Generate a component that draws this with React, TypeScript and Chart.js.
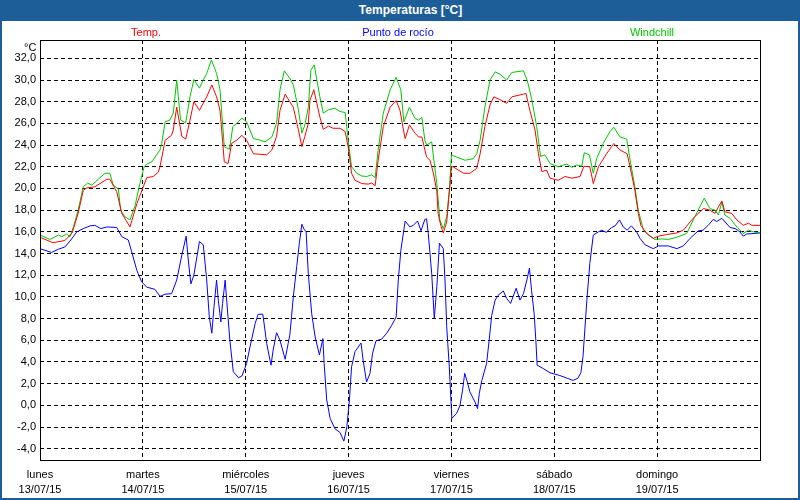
import React, { useEffect, useRef } from "react";
import { Chart, registerables } from "chart.js";

Chart.register(...registerables);

const dayNames = ["lunes", "martes", "miércoles", "jueves", "viernes", "sábado", "domingo"];
const dayDates = ["13/07/15", "14/07/15", "15/07/15", "16/07/15", "17/07/15", "18/07/15", "19/07/15"];
const dayTickHours = [0, 24, 48, 72, 96, 120, 144];
const yTickValues = [-4, -2, 0, 2, 4, 6, 8, 10, 12, 14, 16, 18, 20, 22, 24, 26, 28, 30, 32];

// Temp. (hours since 13/07/15 00:00, °C)
const tempHours = [0, 3.0, 5.8, 7.5, 8.9, 10.1, 10.9, 12.8, 15.6, 16.3, 17.9, 19.1, 21.0, 22.6, 24.1, 24.9, 26.4, 27.6, 28.0, 29.2, 30.7, 31.1, 31.9, 33.1, 34.0, 35.0, 35.9, 37.2, 38.9, 40.1, 41.2, 42.0, 42.6, 43.0, 43.9, 44.7, 45.9, 47.1, 48.2, 49.8, 52.9, 54.1, 55.2, 56.0, 57.2, 58.3, 59.1, 60.3, 61.1, 61.8, 62.6, 63.0, 63.9, 64.6, 65.3, 66.1, 67.3, 68.4, 70.0, 71.2, 71.9, 72.7, 73.5, 75.1, 76.6, 77.4, 78.2, 78.9, 80.1, 81.7, 83.1, 84.0, 84.8, 85.2, 86.2, 87.5, 88.3, 89.1, 90.2, 91.0, 91.8, 92.6, 92.9, 93.5, 94.1, 94.9, 95.4, 95.8, 96.0, 96.4, 98.8, 100.3, 101.9, 102.7, 103.8, 105.0, 105.9, 107.3, 108.9, 110.1, 112.8, 113.4, 114.3, 115.5, 116.3, 117.1, 118.2, 119.0, 120.9, 122.5, 124.1, 126.0, 126.9, 128.3, 129.1, 130.3, 132.2, 133.9, 135.3, 137.0, 138.0, 138.8, 139.6, 140.2, 141.6, 143.1, 144.3, 146.2, 148.6, 150.1, 152.4, 154.8, 156.3, 157.5, 158.3, 159.1, 159.8, 161.4, 162.6, 164.1, 165.3, 166.1, 168.0];
const tempValues = [15.5, 15.0, 15.2, 15.9, 17.7, 19.85, 20.05, 20.15, 20.85, 20.85, 19.7, 17.7, 16.45, 18.6, 20.15, 21.0, 21.1, 21.5, 22.0, 24.45, 24.9, 25.4, 27.5, 24.8, 24.55, 26.3, 28.0, 27.2, 28.45, 29.55, 28.45, 27.2, 24.45, 22.45, 22.3, 24.15, 24.45, 24.9, 24.45, 23.2, 23.1, 23.55, 24.8, 27.2, 28.7, 28.0, 27.5, 25.4, 23.85, 24.8, 26.0, 28.15, 29.1, 27.85, 26.6, 25.45, 25.75, 25.55, 25.55, 25.25, 23.85, 21.4, 20.75, 20.45, 20.4, 20.5, 20.25, 22.6, 25.7, 27.5, 28.1, 27.2, 25.4, 24.6, 25.85, 25.1, 24.75, 24.75, 22.9, 22.6, 21.4, 19.7, 17.7, 16.6, 15.9, 16.9, 19.2, 20.8, 22.0, 22.0, 21.4, 21.4, 21.85, 23.2, 25.7, 27.7, 28.45, 28.2, 27.85, 28.45, 28.7, 28.75, 27.2, 25.4, 23.2, 21.55, 21.7, 20.95, 20.75, 21.1, 20.95, 21.1, 22.05, 22.0, 20.45, 22.0, 23.2, 24.15, 23.55, 23.2, 21.4, 19.85, 17.7, 16.6, 15.85, 15.4, 15.6, 15.75, 15.9, 16.15, 17.25, 18.15, 18.0, 17.7, 18.3, 18.85, 17.85, 17.7, 17.1, 16.6, 16.8, 16.6, 16.6];

// Punto de rocío
const dewHours = [0, 2.7, 4.3, 5.8, 7.0, 8.6, 10.1, 11.7, 12.8, 14.2, 15.6, 17.9, 19.1, 20.6, 21.4, 22.6, 23.7, 24.9, 26.8, 28.0, 29.2, 30.7, 31.9, 33.1, 34.1, 34.6, 35.2, 35.9, 37.2, 38.1, 38.9, 39.5, 40.1, 40.6, 41.2, 41.6, 42.2, 42.6, 43.2, 43.6, 44.3, 45.1, 46.3, 47.1, 48.2, 49.0, 50.2, 50.9, 52.0, 52.9, 53.9, 54.4, 55.2, 56.0, 57.2, 57.9, 58.3, 58.7, 59.1, 59.9, 60.5, 61.1, 61.6, 62.1, 62.6, 63.4, 64.2, 65.2, 66.0, 66.3, 66.9, 67.7, 68.8, 70.0, 70.9, 71.6, 72.2, 72.7, 73.5, 74.9, 75.4, 76.2, 77.0, 77.6, 78.4, 79.7, 80.9, 82.1, 83.1, 83.6, 84.2, 85.2, 86.3, 87.1, 88.1, 88.9, 89.8, 90.2, 90.6, 91.4, 92.0, 92.6, 93.2, 94.1, 94.5, 94.9, 95.5, 96.1, 97.2, 98.0, 98.6, 99.1, 99.6, 100.3, 101.5, 102.1, 102.5, 103.1, 104.2, 104.8, 105.4, 106.2, 106.9, 108.1, 108.9, 109.8, 111.1, 112.0, 112.8, 113.6, 114.2, 114.7, 115.3, 115.7, 116.0, 117.4, 119.0, 121.3, 123.0, 124.4, 125.5, 126.2, 126.7, 127.6, 128.3, 129.1, 130.3, 131.1, 132.1, 133.4, 134.2, 135.2, 136.1, 137.0, 138.0, 139.2, 140.0, 141.2, 143.1, 144.3, 146.6, 148.6, 150.1, 151.7, 153.6, 154.7, 155.9, 157.1, 157.9, 159.1, 161.0, 162.2, 163.3, 164.1, 164.9, 166.8, 168.0];
const dewValues = [14.45, 14.1, 14.4, 14.6, 15.15, 16.0, 16.3, 16.55, 16.6, 16.3, 16.45, 16.4, 15.55, 15.25, 14.15, 12.45, 11.4, 10.9, 10.7, 10.05, 10.25, 10.3, 11.55, 13.85, 15.6, 13.4, 11.2, 12.0, 15.1, 14.8, 11.55, 8.15, 6.65, 9.1, 11.55, 9.7, 7.7, 9.4, 11.55, 9.5, 6.0, 3.1, 2.55, 2.7, 3.85, 5.4, 7.55, 8.4, 8.4, 5.7, 3.7, 5.1, 6.7, 6.0, 4.25, 5.7, 6.5, 8.2, 10.0, 12.8, 14.9, 16.7, 16.25, 16.0, 12.15, 8.45, 6.3, 4.65, 6.15, 3.85, 0.5, -1.2, -2.15, -2.5, -3.3, -2.0, 0.5, 3.55, 4.95, 5.75, 4.15, 2.15, 2.95, 4.8, 5.95, 6.1, 6.65, 7.4, 8.15, 11.55, 14.3, 17.0, 16.45, 16.6, 17.0, 16.1, 17.15, 17.2, 15.85, 12.15, 8.0, 10.95, 14.95, 14.45, 11.55, 7.25, 3.55, -1.2, -0.75, 0.0, 1.4, 2.95, 2.3, 1.25, 0.3, -0.3, 1.1, 2.3, 3.85, 6.0, 8.3, 9.7, 10.15, 10.55, 9.85, 9.4, 10.8, 9.7, 10.3, 11.55, 12.65, 10.6, 8.45, 6.0, 3.7, 3.4, 3.0, 2.75, 2.5, 2.3, 2.5, 3.0, 4.5, 9.7, 13.1, 15.7, 16.0, 16.15, 15.95, 16.4, 16.55, 17.1, 16.45, 16.15, 16.55, 16.0, 15.4, 14.8, 14.45, 14.7, 14.7, 14.45, 14.7, 15.4, 16.1, 16.15, 16.6, 17.15, 16.95, 17.25, 16.4, 16.3, 16.0, 15.6, 15.8, 15.85, 15.9];

// Windchill
const chillHours = [0, 2.3, 4.3, 5.1, 6.2, 7.0, 7.8, 8.9, 10.1, 11.1, 12.1, 13.6, 15.2, 16.3, 17.1, 18.3, 18.8, 19.8, 21.0, 22.2, 23.3, 24.3, 24.9, 26.1, 28.0, 28.4, 29.2, 30.3, 31.1, 31.9, 32.8, 34.0, 35.0, 35.9, 37.2, 38.1, 38.9, 40.0, 41.2, 42.0, 42.6, 43.0, 44.2, 45.0, 45.9, 47.1, 48.2, 49.8, 51.3, 52.5, 54.1, 55.2, 56.0, 57.0, 58.3, 59.1, 60.3, 61.1, 61.8, 62.6, 63.2, 64.0, 64.6, 65.3, 66.1, 67.3, 68.8, 70.0, 71.2, 71.9, 72.7, 73.9, 75.1, 76.2, 77.4, 78.2, 78.9, 80.1, 81.7, 83.1, 84.2, 84.9, 86.2, 87.5, 88.3, 89.1, 89.8, 90.2, 91.4, 91.9, 92.6, 93.3, 94.1, 94.9, 95.5, 96.0, 97.2, 99.2, 101.1, 101.9, 102.7, 103.8, 105.0, 106.2, 107.3, 108.9, 110.1, 112.8, 113.7, 114.7, 115.9, 116.8, 117.8, 119.0, 120.9, 122.9, 124.1, 125.2, 126.4, 127.0, 128.2, 129.1, 129.9, 131.4, 133.0, 133.9, 135.3, 136.9, 137.7, 138.8, 139.6, 140.8, 142.3, 143.5, 145.1, 146.6, 148.6, 150.9, 152.8, 155.0, 156.3, 157.5, 158.3, 159.1, 159.8, 161.0, 162.6, 164.1, 165.3, 166.4, 168.0];
const chillValues = [15.7, 15.3, 15.7, 15.55, 15.8, 15.55, 16.45, 18.0, 20.15, 20.5, 20.3, 20.85, 21.4, 21.4, 20.3, 19.95, 18.0, 17.4, 17.1, 18.45, 20.45, 22.0, 22.25, 22.45, 23.55, 24.15, 26.15, 26.3, 26.95, 30.0, 26.3, 26.05, 28.45, 30.05, 29.25, 30.0, 30.6, 31.85, 30.6, 29.1, 26.0, 23.85, 23.6, 25.7, 26.0, 26.5, 26.15, 24.6, 24.45, 24.3, 24.75, 26.0, 29.1, 30.85, 30.15, 29.55, 27.25, 25.1, 25.85, 27.5, 30.9, 31.4, 30.0, 28.45, 26.95, 27.25, 27.4, 27.1, 27.0, 24.45, 22.0, 21.4, 21.15, 21.1, 21.25, 21.0, 23.55, 26.95, 29.1, 30.25, 29.1, 26.15, 27.5, 26.45, 26.3, 26.55, 24.45, 24.0, 24.3, 22.6, 20.45, 17.1, 16.3, 17.4, 19.85, 23.1, 22.9, 22.6, 22.75, 23.2, 24.45, 27.5, 30.0, 30.75, 30.55, 30.0, 30.7, 30.85, 29.95, 28.3, 25.7, 22.95, 23.1, 22.3, 22.0, 22.25, 21.95, 22.15, 22.05, 23.3, 23.1, 21.4, 22.75, 24.15, 25.25, 25.65, 24.75, 24.55, 22.6, 20.15, 18.0, 16.15, 15.6, 15.3, 15.35, 15.3, 15.5, 15.85, 17.4, 19.1, 18.15, 18.0, 17.55, 18.75, 17.55, 17.25, 16.45, 15.85, 16.15, 16.0, 15.9];

const BLUE_FRAME = "#1E5E98";
const FONT = "'Liberation Sans', Arial, sans-serif";

function toPoints(xs: number[], ys: number[]) {
  return xs.map((x, i) => ({ x, y: ys[i] }));
}

const framePlugin = {
  id: "frameBox",
  afterDraw(chart: any) {
    const { ctx, chartArea } = chart;
    ctx.save();
    ctx.strokeStyle = "#000";
    ctx.lineWidth = 1;
    ctx.setLineDash([]);
    const l = Math.round(chartArea.left) + 0.5;
    const t = Math.round(chartArea.top) + 0.5;
    const r = Math.round(chartArea.right) + 0.5;
    const b = Math.round(chartArea.bottom) + 0.5;
    ctx.strokeRect(l, t, r - l, b - t);
    ctx.restore();
  },
};

export default function App() {
  const canvasRef = useRef<HTMLCanvasElement | null>(null);

  useEffect(() => {
    document.body.style.margin = "0";
    const canvas = canvasRef.current;
    if (!canvas) return;
    const chart = new Chart(canvas, {
      type: "line",
      data: {
        datasets: [
          {
            label: "Temp.",
            data: toPoints(tempHours, tempValues),
            borderColor: "#FF0000",
            borderWidth: 1,
            pointRadius: 0,
            tension: 0,
            fill: false,
          },
          {
            label: "Windchill",
            data: toPoints(chillHours, chillValues),
            borderColor: "#00C800",
            borderWidth: 1,
            pointRadius: 0,
            tension: 0,
            fill: false,
          },
          {
            label: "Punto de rocío",
            data: toPoints(dewHours, dewValues),
            borderColor: "#0000FF",
            borderWidth: 1,
            pointRadius: 0,
            tension: 0,
            fill: false,
          },
        ],
      },
      options: {
        responsive: false,
        animation: false,
        devicePixelRatio: 1,
        layout: { padding: { left: 0, right: 40, top: 40, bottom: 0 } },
        plugins: {
          legend: { display: false },
          title: { display: false },
          tooltip: { enabled: false },
        },
        scales: {
          x: {
            type: "linear",
            min: 0,
            max: 168,
            afterBuildTicks: (scale: any) => {
              scale.ticks = dayTickHours.map((v) => ({ value: v }));
            },
            afterFit: (scale: any) => {
              scale.height = 40;
            },
            grid: {
              color: "#000",
              lineWidth: 1,
              drawTicks: false,
            },
            border: { display: false, dash: [4, 3] },
            ticks: {
              autoSkip: false,
              maxRotation: 0,
              minRotation: 0,
              padding: 7,
              color: "#000",
              font: { family: FONT, size: 11, lineHeight: 1.3636 },
              callback: (value: any) => {
                const i = dayTickHours.indexOf(Number(value));
                return i >= 0 ? [dayNames[i], dayDates[i]] : "";
              },
            },
          },
          y: {
            type: "linear",
            min: -5.04,
            max: 33.69,
            afterBuildTicks: (scale: any) => {
              scale.ticks = yTickValues.map((v) => ({ value: v }));
            },
            afterFit: (scale: any) => {
              scale.width = 40;
            },
            grid: {
              color: "#000",
              lineWidth: 1,
              drawTicks: false,
            },
            border: { display: false, dash: [4, 3] },
            ticks: {
              padding: 4,
              color: "#000",
              font: { family: FONT, size: 11 },
              callback: (value: any) => Number(value).toFixed(1).replace(".", ","),
            },
          },
        },
      },
      plugins: [framePlugin],
    } as any);
    return () => chart.destroy();
  }, []);

  const legendStyle: React.CSSProperties = {
    position: "absolute",
    top: 25,
    fontFamily: FONT,
    fontSize: 11,
    lineHeight: "14px",
    whiteSpace: "nowrap",
    transform: "translateX(-50%)",
  };

  return (
    <div
      style={{
        position: "relative",
        width: 800,
        height: 500,
        background: "#FFFFFF",
        overflow: "hidden",
      }}
    >
      <canvas ref={canvasRef} width={800} height={500} style={{ position: "absolute", left: 0, top: 0, width: 800, height: 500 }} />
      <div
        style={{
          position: "absolute",
          left: 0,
          top: 0,
          width: 800,
          height: 21,
          background: BLUE_FRAME,
          color: "#FFFFFF",
          fontFamily: FONT,
          fontWeight: "bold",
          fontSize: 12,
          lineHeight: "21px",
          textAlign: "center",
          paddingLeft: 21,
          boxSizing: "border-box",
        }}
      >
        Temperaturas [°C]
      </div>
      <div style={{ position: "absolute", left: 0, top: 0, width: 2, height: 500, background: BLUE_FRAME }} />
      <div style={{ position: "absolute", right: 0, top: 0, width: 2, height: 500, background: BLUE_FRAME }} />
      <div style={{ position: "absolute", left: 0, bottom: 0, width: 800, height: 2, background: BLUE_FRAME }} />
      <span style={{ ...legendStyle, left: 146, color: "#FF0000" }}>Temp.</span>
      <span style={{ ...legendStyle, left: 398, color: "#0000FF" }}>Punto de rocío</span>
      <span style={{ ...legendStyle, left: 652, color: "#00C800" }}>Windchill</span>
      <span
        style={{
          position: "absolute",
          left: 24,
          top: 40,
          fontFamily: FONT,
          fontSize: 11,
          lineHeight: "14px",
          color: "#000",
        }}
      >
        °C
      </span>
    </div>
  );
}
